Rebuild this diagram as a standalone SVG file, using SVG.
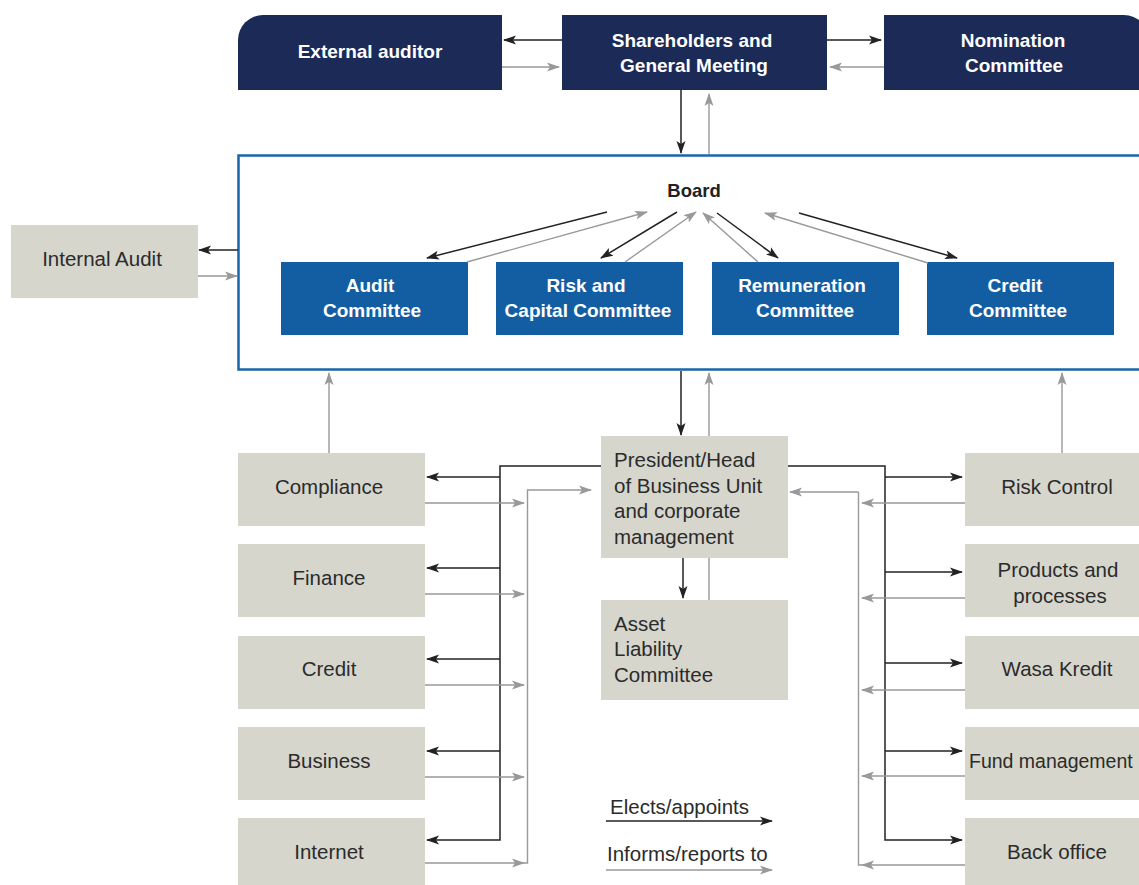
<svg xmlns="http://www.w3.org/2000/svg" width="1139" height="885" viewBox="0 0 1139 885">
<style>
.navy{fill:#1b2a57}
.blue{fill:#135ea2}
.grey{fill:#d6d6cd}
.tb{font-family:"Liberation Sans",Arial,sans-serif;font-weight:bold;font-size:19px;fill:#fff;text-anchor:middle}
.tr{font-family:"Liberation Sans",Arial,sans-serif;font-size:20.5px;fill:#2b2b2b;text-anchor:middle}
.tl{font-family:"Liberation Sans",Arial,sans-serif;font-size:20.5px;fill:#2b2b2b}
.k{fill:none;stroke:#222;stroke-width:1.5}
.g{fill:none;stroke:#999;stroke-width:1.4}
.ka{fill:none;stroke:#222;stroke-width:1.5;marker-end:url(#ab)}
.ga{fill:none;stroke:#999;stroke-width:1.4;marker-end:url(#ag)}
</style>
<defs>
<marker id="ab" markerWidth="13" markerHeight="10" refX="12" refY="5" orient="auto" markerUnits="userSpaceOnUse"><path d="M0,0.5 L13,5 L0,9.5 L3,5 z" fill="#222"/></marker>
<marker id="ag" markerWidth="13" markerHeight="10" refX="12" refY="5" orient="auto" markerUnits="userSpaceOnUse"><path d="M0,0.5 L13,5 L0,9.5 L3,5 z" fill="#999"/></marker>
</defs>
<rect width="1139" height="885" fill="#fff"/>

<g id="external-auditor">
<path class="navy" d="M263,15 H502 V90 H238 V40 A25,25 0 0 1 263,15 z"/>
<text class="tb" x="370" y="58">External auditor</text>
</g>
<g id="shareholders">
<rect class="navy" x="562" y="15" width="265" height="75"/>
<text class="tb" x="692" y="47">Shareholders and</text>
<text class="tb" x="694" y="72">General Meeting</text>
</g>
<g id="nomination">
<path class="navy" d="M884,15 H1124 A25,25 0 0 1 1149,40 V90 H884 z"/>
<text class="tb" x="1013" y="47">Nomination</text>
<text class="tb" x="1014" y="72">Committee</text>
</g>

<g id="board">
<rect x="238.5" y="155.5" width="920" height="214" fill="#fff" stroke="#1a64ad" stroke-width="2.5"/>
<text x="694" y="197" style="font-family:'Liberation Sans',Arial,sans-serif;font-weight:bold;font-size:18.5px;fill:#222;text-anchor:middle">Board</text>
</g>
<g id="audit-committee">
<rect class="blue" x="281" y="262" width="187" height="73"/>
<text class="tb" x="370" y="292">Audit</text>
<text class="tb" x="372" y="317">Committee</text>
</g>
<g id="risk-capital-committee">
<rect class="blue" x="496" y="262" width="187" height="73"/>
<text class="tb" x="586" y="292">Risk and</text>
<text class="tb" x="588" y="317">Capital Committee</text>
</g>
<g id="remuneration-committee">
<rect class="blue" x="712" y="262" width="187" height="73"/>
<text class="tb" x="802" y="292">Remuneration</text>
<text class="tb" x="805" y="317">Committee</text>
</g>
<g id="credit-committee">
<rect class="blue" x="927" y="262" width="187" height="73"/>
<text class="tb" x="1015" y="292">Credit</text>
<text class="tb" x="1018" y="317">Committee</text>
</g>

<g id="internal-audit">
<rect class="grey" x="11" y="225" width="187" height="73"/>
<text class="tr" x="102" y="266">Internal Audit</text>
</g>

<g id="president">
<rect class="grey" x="601" y="436" width="187" height="122"/>
<text class="tl" x="614" y="467">President/Head</text>
<text class="tl" x="614" y="493">of Business Unit</text>
<text class="tl" x="614" y="518">and corporate</text>
<text class="tl" x="614" y="544">management</text>
</g>
<g id="alco">
<rect class="grey" x="601" y="600" width="187" height="100"/>
<text class="tl" x="614" y="631">Asset</text>
<text class="tl" x="614" y="656">Liability</text>
<text class="tl" x="614" y="682">Committee</text>
</g>

<g id="compliance"><rect class="grey" x="238" y="453" width="187" height="73"/><text class="tr" x="329" y="494">Compliance</text></g>
<g id="finance"><rect class="grey" x="238" y="544" width="187" height="73"/><text class="tr" x="329" y="585">Finance</text></g>
<g id="credit"><rect class="grey" x="238" y="636" width="187" height="73"/><text class="tr" x="329" y="676">Credit</text></g>
<g id="business"><rect class="grey" x="238" y="727" width="187" height="73"/><text class="tr" x="329" y="768">Business</text></g>
<g id="internet"><rect class="grey" x="238" y="818" width="187" height="73"/><text class="tr" x="329" y="859">Internet</text></g>

<g id="risk-control"><rect class="grey" x="965" y="453" width="187" height="73"/><text class="tr" x="1057" y="494">Risk Control</text></g>
<g id="products"><rect class="grey" x="965" y="544" width="187" height="73"/><text class="tr" x="1058" y="577">Products and</text><text class="tr" x="1060" y="603">processes</text></g>
<g id="wasa-kredit"><rect class="grey" x="965" y="636" width="187" height="73"/><text class="tr" x="1057" y="676">Wasa Kredit</text></g>
<g id="fund-management"><rect class="grey" x="965" y="727" width="187" height="73"/><text class="tl" x="969" y="768" style="font-size:19.5px">Fund management</text></g>
<g id="back-office"><rect class="grey" x="965" y="818" width="187" height="73"/><text class="tr" x="1057" y="859">Back office</text></g>

<g id="legend">
<text class="tl" x="610" y="814">Elects/appoints</text>
<text class="tl" x="607" y="861">Informs/reports to</text>
</g>

<g id="connectors">
<path class="ka" d="M562,40 H504"/>
<path class="ga" d="M502,67 H559"/>
<path class="ka" d="M827,40 H881"/>
<path class="ga" d="M884,67 H830"/>
<path class="ka" d="M681,90 V153"/>
<path class="ga" d="M709,154 V94"/>
<path class="ka" d="M238,250 H199"/>
<path class="ga" d="M198,276 H237"/>
<path class="ka" d="M607,212 L427,258"/>
<path class="ga" d="M467,262 L647,212"/>
<path class="ka" d="M677,212 L601,258"/>
<path class="ga" d="M625,262 L696,212"/>
<path class="ga" d="M758,262 L703,213"/>
<path class="ka" d="M717,213 L778,258"/>
<path class="ga" d="M928,263 L765,213"/>
<path class="ka" d="M799,213 L957,258"/>
<path class="ka" d="M681,371 V435"/>
<path class="ga" d="M709,436 V373"/>
<path class="ga" d="M329,453 V373"/>
<path class="ga" d="M1062,453 V373"/>
<path class="ka" d="M683,558 V598"/>
<path class="g" d="M709,600 V558"/>
<path class="ka" d="M601,466 H500 V840 H427"/>
<path class="ka" d="M500,477 H427"/>
<path class="ka" d="M500,568 H427"/>
<path class="ka" d="M500,659 H427"/>
<path class="ka" d="M500,751 H427"/>
<path class="ga" d="M425,503 H524"/>
<path class="ga" d="M425,594 H524"/>
<path class="ga" d="M425,685 H524"/>
<path class="ga" d="M425,777 H524"/>
<path class="ga" d="M425,863 H524"/>
<path class="ga" d="M524,863 H527.5 V490 H591"/>
<path class="ka" d="M788,466 H885 V840 H962"/>
<path class="ka" d="M885,477 H962"/>
<path class="ka" d="M885,572 H962"/>
<path class="ka" d="M885,663 H962"/>
<path class="ka" d="M885,751 H962"/>
<path class="ga" d="M965,503 H862"/>
<path class="ga" d="M965,598 H862"/>
<path class="ga" d="M965,690 H862"/>
<path class="ga" d="M965,776 H862"/>
<path class="ga" d="M965,865 H862"/>
<path class="g" d="M862,865 H858.5 V492"/>
<path class="ga" d="M858.5,492 H790"/>
<path class="ka" d="M606,821 H772"/>
<path class="ga" d="M606,870 H772"/>
</g>
</svg>
